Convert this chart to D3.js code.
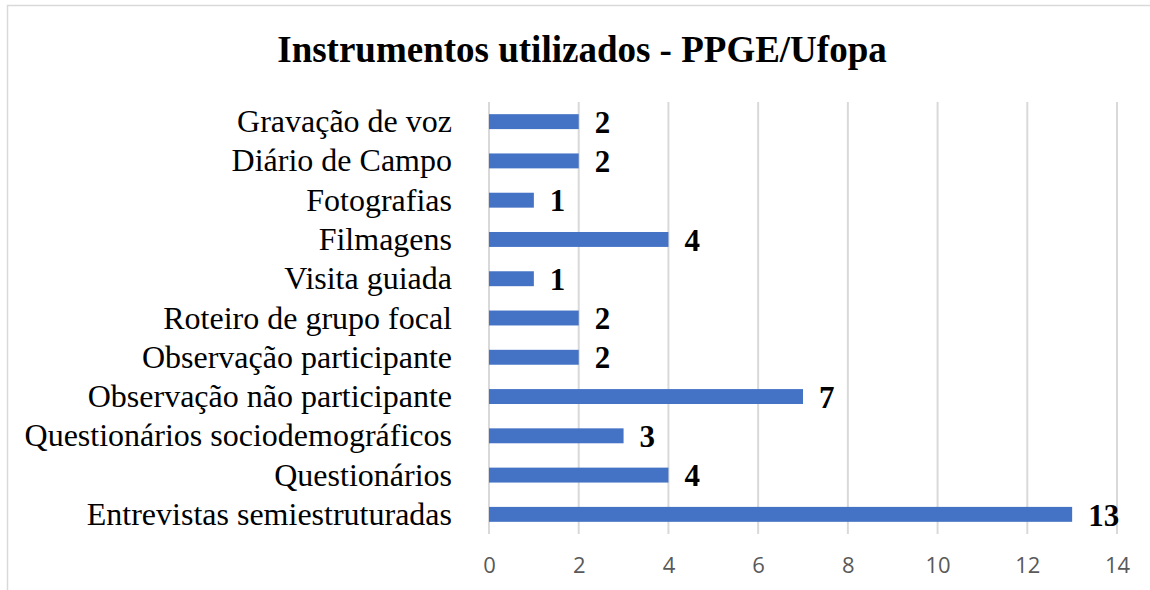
<!DOCTYPE html>
<html>
<head>
<meta charset="utf-8">
<script src="https://cdn.jsdelivr.net/npm/d3@7"></script>
<style>
  body { margin: 0; background: #fff; }
</style>
</head>
<body>
<div id="chart"></div>
<script>
var categories = [
    "Gravação de voz",
    "Diário de Campo",
    "Fotografias",
    "Filmagens",
    "Visita guiada",
    "Roteiro de grupo focal",
    "Observação participante",
    "Observação não participante",
    "Questionários sociodemográficos",
    "Questionários",
    "Entrevistas semiestruturadas"
];
var values = [2, 2, 1, 4, 1, 2, 2, 7, 3, 4, 13];
var xTicks = [0, 2, 4, 6, 8, 10, 12, 14];

var width = 1150, height = 590;
var plotLeft = 489, plotRight = 1117, plotTop = 102, plotBottom = 534;
var serif = "'Liberation Serif', 'Times New Roman', serif";

var svg = d3.select("#chart").append("svg")
    .attr("width", width)
    .attr("height", height);

// outer frame
svg.append("rect")
    .attr("x", 7.5).attr("y", 5.5)
    .attr("width", 1160).attr("height", 620)
    .attr("fill", "none")
    .attr("stroke", "#d9d9d9")
    .attr("stroke-width", 1.5);

svg.append("text")
    .attr("x", 582).attr("y", 62)
    .attr("text-anchor", "middle")
    .style("font-family", serif)
    .style("font-weight", "bold")
    .style("font-size", "37px")
    .text("Instrumentos utilizados - PPGE/Ufopa");

var x = d3.scaleLinear().domain([0, 14]).range([plotLeft, plotRight]);
var y = d3.scaleBand().domain(categories).range([plotTop, plotBottom]).paddingInner(0.62).paddingOuter(0.31);

// gridlines
svg.append("g").selectAll("line")
    .data(xTicks)
    .enter().append("line")
    .attr("x1", function (d) { return x(d); })
    .attr("x2", function (d) { return x(d); })
    .attr("y1", plotTop)
    .attr("y2", plotBottom)
    .attr("stroke", "#d9d9d9")
    .attr("stroke-width", 2);

// x axis labels
var xAxis = d3.axisBottom(x).tickValues(xTicks).tickSize(0).tickPadding(0);
var gx = svg.append("g")
    .attr("transform", "translate(0," + 573 + ")")
    .call(xAxis);
gx.select(".domain").remove();
gx.selectAll("text")
    .attr("dy", 0)
    .style("font-family", "'Open Sans', 'Liberation Sans', sans-serif")
    .style("font-size", "22px")
    .attr("fill", "#595959");

// bars
svg.append("g").selectAll("rect")
    .data(values)
    .enter().append("rect")
    .attr("x", x(0))
    .attr("y", function (d, i) { return y(categories[i]); })
    .attr("width", function (d) { return x(d) - x(0); })
    .attr("height", y.bandwidth())
    .attr("fill", "#4472c4");

// category labels
var yAxis = d3.axisLeft(y).tickSize(0).tickPadding(0);
var gy = svg.append("g")
    .attr("transform", "translate(452,0)")
    .call(yAxis);
gy.select(".domain").remove();
gy.selectAll("text")
    .attr("dy", "0.33em")
    .style("font-family", serif)
    .style("font-size", "32px")
    .attr("fill", "#000");

// value labels
svg.append("g").selectAll("text")
    .data(values)
    .enter().append("text")
    .attr("x", function (d) { return x(d) + 16; })
    .attr("y", function (d, i) { return y(categories[i]) + y.bandwidth() / 2; })
    .attr("dy", "0.36em")
    .style("font-family", serif)
    .style("font-weight", "bold")
    .style("font-size", "31px")
    .text(function (d) { return d; });
</script>
</body>
</html>
